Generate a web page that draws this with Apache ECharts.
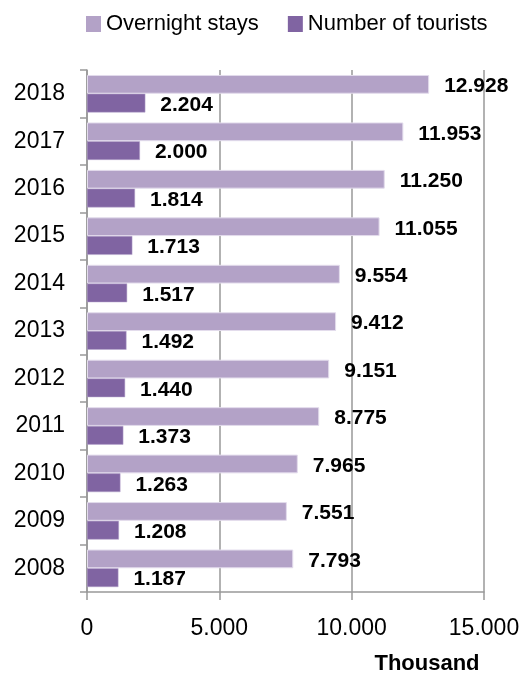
<!DOCTYPE html>
<html>
<head>
<meta charset="utf-8">
<script src="https://cdn.jsdelivr.net/npm/echarts@6/dist/echarts.min.js"></script>
<style>
html,body{margin:0;padding:0;background:#fff;}
#chart{width:527px;height:676px;}
</style>
</head>
<body>
<div id="chart"></div>
<script>
var years = ['2008','2009','2010','2011','2012','2013','2014','2015','2016','2017','2018'];
var overnightStays = [7793, 7551, 7965, 8775, 9151, 9412, 9554, 11055, 11250, 11953, 12928];
var numberOfTourists = [1187, 1208, 1263, 1373, 1440, 1492, 1517, 1713, 1814, 2000, 2204];
var seriesNames = ['Overnight stays', 'Number of tourists'];
var axisTitle = 'Thousand';

function fmt(v) {
  var s = String(Math.round(v));
  return s.replace(/\B(?=(\d{3})+(?!\d))/g, '.');
}

var FONT = 'Liberation Sans, Arial, sans-serif';
var chart = echarts.init(document.getElementById('chart'), null, {renderer: 'canvas'});
var labelStyle = {
  show: true,
  position: 'right',
  distance: 15,
  offset: [0, 2],
  fontFamily: FONT,
  fontSize: 21,
  fontWeight: 'bold',
  color: '#000',
  formatter: function (p) { return fmt(p.value); }
};
chart.setOption({
  animation: false,
  legend: {
    data: seriesNames,
    left: 81,
    top: 8,
    itemWidth: 15,
    itemHeight: 16,
    itemGap: 29,
    icon: 'rect',
    itemStyle: {borderWidth: 0},
    textStyle: {fontFamily: FONT, fontSize: 22, color: '#000'}
  },
  grid: {left: 87, right: 43, top: 70, bottom: 84, containLabel: false},
  xAxis: {
    type: 'value',
    min: 0,
    max: 15000,
    interval: 5000,
    axisLine: {show: true, lineStyle: {color: '#999', width: 1.5}},
    axisTick: {show: true, length: 8, lineStyle: {color: '#999', width: 1.5}},
    splitLine: {show: true, lineStyle: {color: '#999', width: 1.5}},
    axisLabel: {fontFamily: FONT, fontSize: 23, color: '#000', margin: 25, formatter: function (v) { return fmt(v); }}
  },
  yAxis: {
    type: 'category',
    data: years,
    axisLine: {show: true, lineStyle: {color: '#999', width: 1.5}},
    axisTick: {show: true, length: 7, lineStyle: {color: '#999', width: 1.5}},
    axisLabel: {fontFamily: FONT, fontSize: 23, color: '#000', margin: 22}
  },
  graphic: [{
    type: 'text',
    x: 427,
    y: 664,
    style: {text: axisTitle, fontFamily: FONT, fontSize: 22, fontWeight: 'bold', fill: '#000', textAlign: 'center', textVerticalAlign: 'middle'}
  }],
  series: [
    {
      name: seriesNames[0],
      type: 'bar',
      data: overnightStays,
      barGap: '0%',
      barCategoryGap: '21%',
      itemStyle: {color: '#b3a2c7', borderColor: '#e3dcec', borderWidth: 1},
      label: labelStyle
    },
    {
      name: seriesNames[1],
      type: 'bar',
      data: numberOfTourists,
      barGap: '0%',
      barCategoryGap: '21%',
      itemStyle: {color: '#8064a2', borderColor: '#b9a8cf', borderWidth: 0.5},
      label: labelStyle
    }
  ]
});
</script>
</body>
</html>
